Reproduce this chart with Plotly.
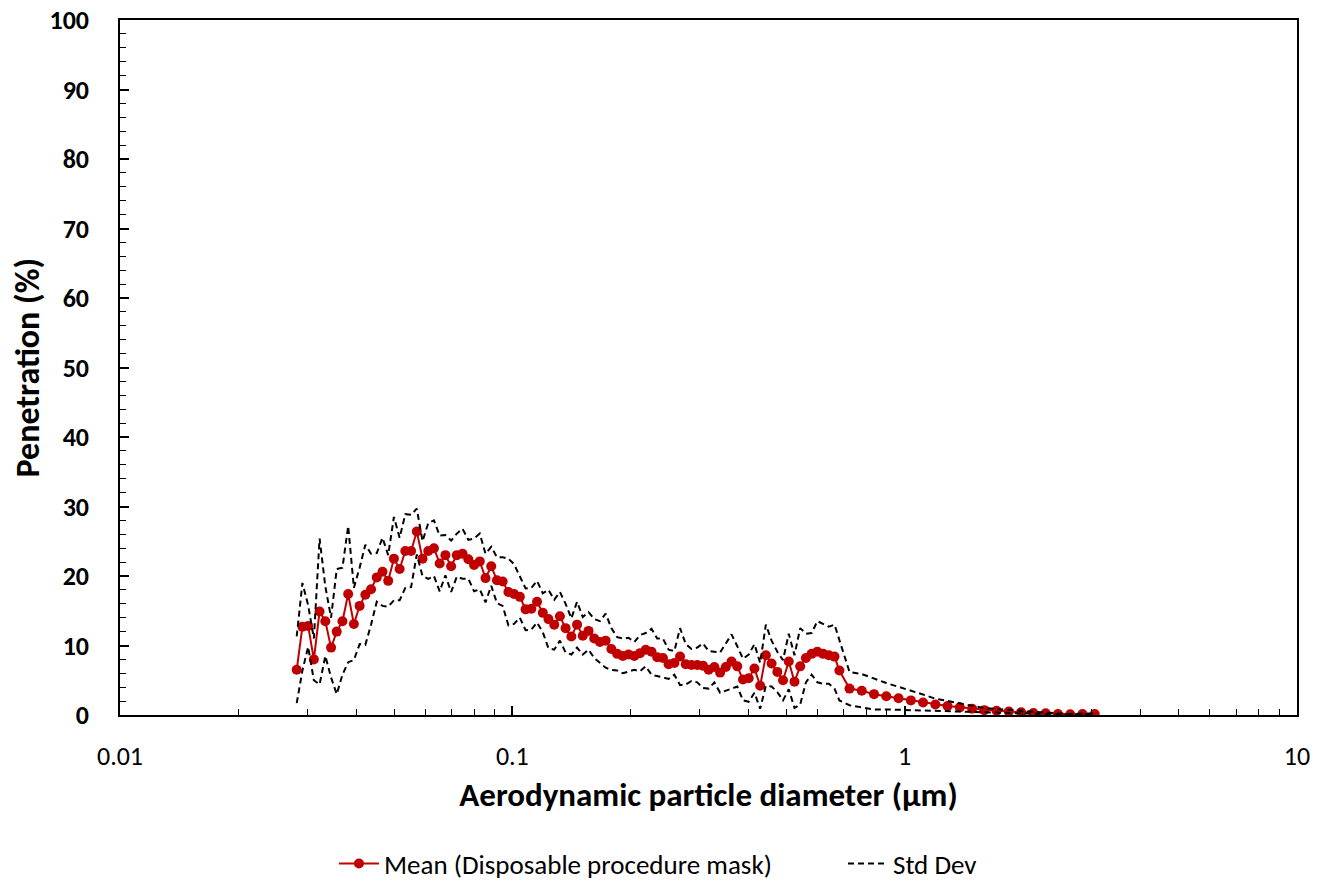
import plotly.graph_objects as go

# SMPS + APS particle diameters (µm)
diameter = [
    0.02821, 0.02917, 0.03017, 0.03120, 0.03226, 0.03337, 0.03451, 0.03568, 0.03690, 0.03816,
    0.03946, 0.04081, 0.04220, 0.04364, 0.04513, 0.04667, 0.04826, 0.04991, 0.05161, 0.05337,
    0.05520, 0.05708, 0.05903, 0.06105, 0.06313, 0.06529, 0.06751, 0.06982, 0.07220, 0.07467,
    0.07725, 0.07989, 0.08261, 0.08543, 0.08835, 0.09136, 0.09448, 0.09771, 0.1010, 0.1045,
    0.1081, 0.1118, 0.1156, 0.1196, 0.1236, 0.1279, 0.1322, 0.1367, 0.1414, 0.1462,
    0.1512, 0.1564, 0.1617, 0.1672, 0.1729, 0.1788, 0.1850, 0.1913, 0.1978, 0.2046,
    0.2116, 0.2188, 0.2263, 0.2340, 0.2420, 0.2502, 0.2588, 0.2676, 0.2767, 0.2862,
    0.2960, 0.3061, 0.3165, 0.3273, 0.3385, 0.3501, 0.3620, 0.3744, 0.3872, 0.4004,
    0.4141, 0.4282, 0.4428, 0.4579, 0.4736, 0.4897, 0.5065, 0.5238, 0.5416, 0.5601,
    0.5793, 0.5991, 0.6195, 0.6407, 0.6625, 0.6817,
    0.7234, 0.7774, 0.8354, 0.8977, 0.9647, 1.037, 1.114, 1.197, 1.286, 1.382,
    1.486, 1.596, 1.715, 1.843, 1.981, 2.129, 2.288, 2.458, 2.642, 2.839, 3.051,
]

# Mean penetration (%)
mean_pen = [
    6.5, 12.7, 12.8, 8.0, 14.9, 13.5, 9.7, 12.0, 13.5, 17.4,
    13.1, 15.7, 17.3, 18.1, 19.8,
    20.6, 19.3, 22.5, 21.0, 23.6, 23.6, 26.4, 22.5, 23.6, 24.0,
    21.8, 23.0, 21.4, 23.0, 23.2, 22.4,
    21.6, 22.1, 19.7, 21.4, 19.4, 19.2, 17.7, 17.4, 17.0, 15.2,
    15.3, 16.3, 14.7, 13.8, 13.0, 14.2, 12.5,
    11.3, 13.0, 11.4, 12.1, 11.0, 10.5, 10.7, 9.5, 8.8, 8.5,
    8.7, 8.5, 8.9, 9.4, 9.1, 8.3,
    8.2, 7.3, 7.5, 8.4, 7.3, 7.2, 7.2, 7.1, 6.5, 6.9,
    6.1, 6.9, 7.7, 7.0, 5.1, 5.3, 6.7,
    4.2, 8.6, 7.4, 6.2, 5.0, 7.7, 4.8, 7.0, 8.2, 8.8,
    9.1, 8.8, 8.6, 8.4, 6.4,
    3.8, 3.5, 3.0, 2.7, 2.4, 2.1, 1.8, 1.5, 1.3, 1.1,
    0.9, 0.7, 0.6, 0.5, 0.4, 0.3, 0.25, 0.15, 0.1, 0.15, 0.15,
]

# Standard deviation (%)
std_pen = [
    4.8, 6.3, 3.0, 3.0, 10.5, 5.0, 4.3, 9.0, 7.7, 9.8,
    5.2, 5.5, 7.2, 5.1, 3.5,
    4.9, 3.7, 6.0, 4.5, 5.3, 5.2, 3.3, 2.5, 4.0, 4.0,
    4.0, 2.9, 3.7, 3.1, 3.6, 2.8,
    3.8, 4.0, 3.5, 2.8, 3.3, 3.5, 4.8, 4.3, 3.0, 3.0,
    3.0, 3.0, 2.8, 4.2, 3.6, 3.5, 3.5,
    2.6, 3.3, 2.7, 2.7, 2.8, 3.0, 3.9, 3.0, 2.4, 2.5,
    2.4, 2.0, 2.6, 2.4, 3.3, 2.7,
    2.8, 2.1, 1.7, 4.1, 2.9, 2.3, 2.5, 3.2, 2.7, 2.2,
    2.9, 3.4, 3.9, 2.9, 3.0, 3.4, 3.5,
    3.3, 4.4, 3.3, 2.9, 2.9, 4.0, 3.8, 5.5, 3.5, 3.0,
    4.4, 4.3, 4.1, 4.6, 4.3,
    2.4, 2.4, 2.2, 1.9, 1.65, 1.45, 1.15, 0.85, 0.7, 0.55,
    0.4, 0.3, 0.25, 0.2, 0.15, 0.12, 0.1, 0.08, 0.06, 0.05, 0.05,
]

upper = [m + s for m, s in zip(mean_pen, std_pen)]
lower = [m - s for m, s in zip(mean_pen, std_pen)]

x_tickvals = [0.01, 0.1, 1, 10]
x_ticktext = ["0.01", "0.1", "1", "10"]
x_minor_vals = [0.02, 0.03, 0.04, 0.05, 0.06, 0.07, 0.08, 0.09,
                0.2, 0.3, 0.4, 0.5, 0.6, 0.7, 0.8, 0.9,
                2, 3, 4, 5, 6, 7, 8, 9]

FONT = "Carlito, Lato, 'Liberation Sans', sans-serif"
RED = "#C00000"

fig = go.Figure()
fig.add_trace(go.Scatter(
    x=diameter, y=mean_pen, mode="lines+markers",
    name="Mean (Disposable procedure mask)",
    line=dict(color=RED, width=2),
    marker=dict(color=RED, size=10),
))
fig.add_trace(go.Scatter(
    x=diameter, y=upper, mode="lines", name="Std Dev",
    line=dict(color="black", width=2, dash="6px,4px"),
))
fig.add_trace(go.Scatter(
    x=diameter, y=lower, mode="lines", name="Std Dev", showlegend=False,
    line=dict(color="black", width=2, dash="6px,4px"),
))

fig.update_layout(
    width=1329, height=882,
    margin=dict(l=120, r=32, t=20, b=167),
    paper_bgcolor="white", plot_bgcolor="white",
    font=dict(family=FONT, color="black"),
    legend=dict(
        orientation="h", xref="container", yref="container",
        x=0.2513, xanchor="left", y=0.0205, yanchor="middle",
        font=dict(size=27, family=FONT), itemwidth=40,
        entrywidth=454, entrywidthmode="pixels",
    ),
    xaxis=dict(
        type="log", range=[-2, 1], automargin=False,
        tickmode="array", tickvals=x_tickvals, ticktext=x_ticktext,
        ticks="inside", ticklen=9, tickwidth=1.5, tickcolor="black",
        showline=True, linecolor="black", linewidth=1.5, mirror=True,
        showgrid=False, zeroline=False,
        tickfont=dict(size=26, family=FONT),
        ticklabelstandoff=17, ticklabeloverflow="allow",
        minor=dict(tickmode="array", tickvals=x_minor_vals, ticks="inside",
                   ticklen=6, tickwidth=1.2, tickcolor="black", showgrid=False),
        title=dict(text="<b>Aerodynamic particle diameter (µm)</b>",
                   font=dict(size=33, family=FONT), standoff=12),
    ),
    yaxis=dict(
        range=[0, 100], dtick=10, tick0=0, automargin=False,
        ticks="inside", ticklen=9, tickwidth=1.5, tickcolor="black",
        showline=True, linecolor="black", linewidth=1.5, mirror=True,
        showgrid=False, zeroline=False,
        tickfont=dict(size=26, family=FONT),
        ticklabelstandoff=24, ticklabeloverflow="allow",
        minor=dict(dtick=2, ticks="inside", ticklen=6, tickwidth=1.2,
                   tickcolor="black", showgrid=False),
    ),
    annotations=[dict(
        text="<b>Penetration (%)</b>", textangle=-90,
        xref="paper", yref="paper", x=-0.0782, y=0.5,
        xanchor="center", yanchor="middle", showarrow=False,
        font=dict(size=34, family=FONT, color="black"),
    )],
)
fig.update_xaxes(tickprefix="<b>", ticksuffix="</b>")
fig.update_yaxes(tickprefix="<b>", ticksuffix="</b>")

fig.write_html("out.html", config={"displayModeBar": False},
               post_script="document.body.style.margin='0';")
